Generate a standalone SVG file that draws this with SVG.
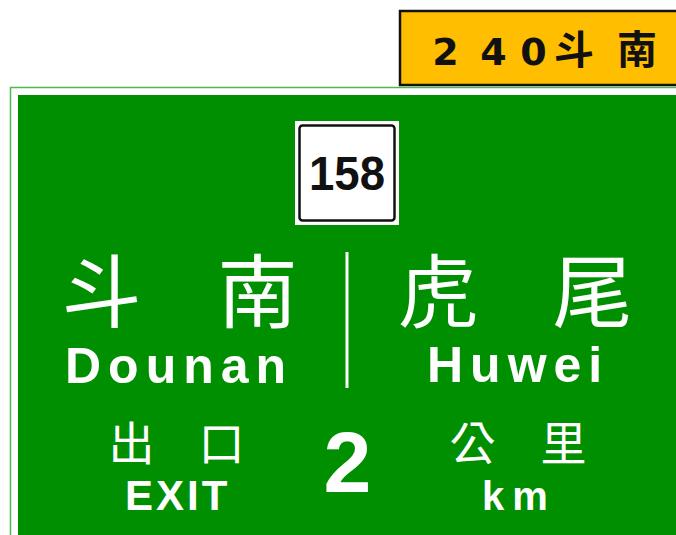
<svg xmlns="http://www.w3.org/2000/svg" width="676" height="535" viewBox="0 0 676 535">
<style>
.cjk{font-family:"Noto Sans CJK TC","Noto Sans CJK SC",sans-serif;fill:#fff;text-anchor:middle}
.lat{font-family:"Liberation Sans",Arial,sans-serif;font-weight:bold;fill:#fff}
</style>
<rect x="0" y="0" width="676" height="535" fill="#fff"/>
<g id="sign-panel">
<rect x="10.5" y="87.5" width="700" height="500" fill="none" stroke="#4fb84f" stroke-width="1.5"/>
<rect x="18" y="95" width="700" height="500" fill="#008f00"/>
</g>
<g id="distance-plate">
<rect x="400" y="11" width="300" height="74" fill="#ffbe00" stroke="#111" stroke-width="2.5"/>
<g font-family="DejaVu Sans,Verdana,sans-serif" font-weight="bold" font-size="38" fill="#111" text-anchor="middle">
<text x="445.5" y="65">2</text><text x="493.5" y="65">4</text><text x="533.5" y="65">0</text>
</g>
<g font-family="Noto Sans CJK TC,Noto Sans CJK SC,sans-serif" font-weight="bold" font-size="40" fill="#111" text-anchor="middle">
<text x="574" y="64">斗</text><text x="637" y="64">南</text>
</g>
</g>
<g id="route-shield">
<rect x="295" y="121" width="104" height="104" fill="#fff"/>
<rect x="299.5" y="125.5" width="95" height="95" rx="3" fill="none" stroke="#111" stroke-width="2.5"/>
<text x="347" y="190" font-family="Liberation Sans,Arial,sans-serif" font-weight="bold" font-size="48" fill="#111" text-anchor="middle" textLength="76" lengthAdjust="spacingAndGlyphs">158</text>
</g>
<g id="connectors">
<line x1="347" y1="252" x2="347" y2="388" stroke="#fff" stroke-width="3"/>
</g>
<g id="dest-dounan">
<text class="cjk" x="101.5" y="321" font-size="80">斗</text>
<text class="cjk" x="257.5" y="321" font-size="80">南</text>
<text class="lat" x="65" y="383" font-size="50" letter-spacing="7">Dounan</text>
</g>
<g id="dest-huwei">
<text class="cjk" x="438" y="321" font-size="80">虎</text>
<text class="cjk" x="592.5" y="321" font-size="80">尾</text>
<text class="lat" x="427" y="382" font-size="50" letter-spacing="7">Huwei</text>
</g>
<g id="exit-label">
<text class="cjk" x="131.5" y="460" font-size="46">出</text>
<text class="cjk" x="221.5" y="460" font-size="46">口</text>
<text class="lat" x="125" y="510" font-size="42" letter-spacing="3">EXIT</text>
</g>
<g id="distance-value">
<text class="lat" x="347.5" y="492" font-size="86" text-anchor="middle">2</text>
</g>
<g id="km-label">
<text class="cjk" x="472.5" y="460" font-size="46">公</text>
<text class="cjk" x="563.5" y="460" font-size="46">里</text>
<text class="lat" x="482" y="510" font-size="40" letter-spacing="8">km</text>
</g>
</svg>
